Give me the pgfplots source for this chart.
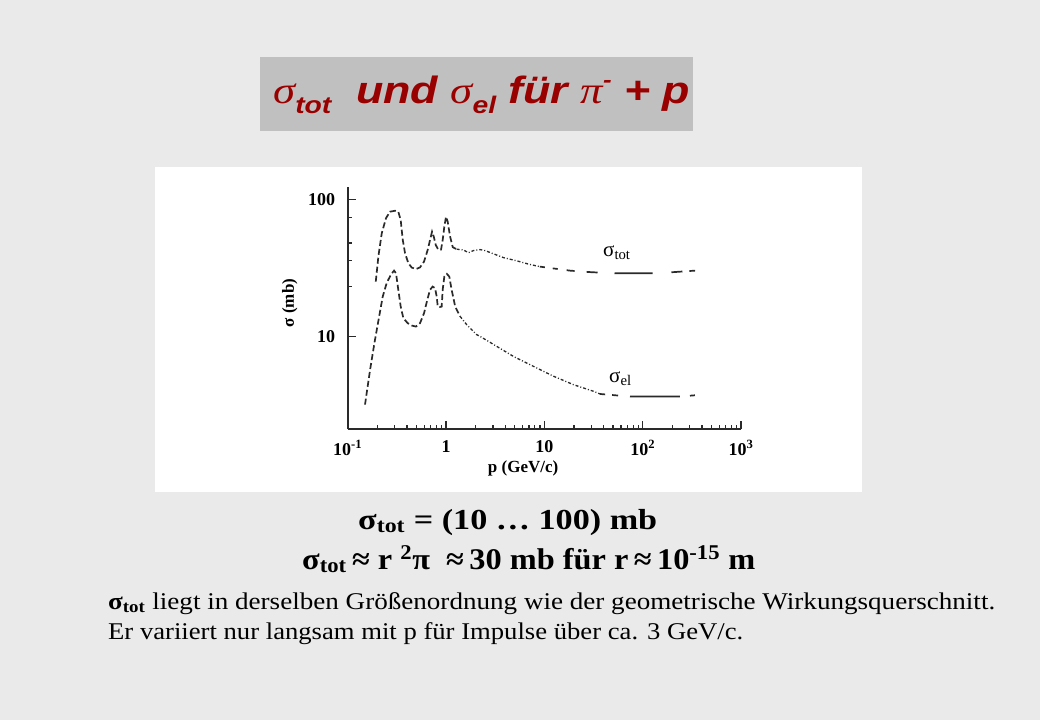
\documentclass[border=0pt]{standalone}
\usepackage{fontspec}
\setmainfont{Liberation Serif}
\setsansfont{Liberation Sans}
\usepackage{graphicx}
\usepackage{pgfplots}
\pgfplotsset{compat=1.18}

\definecolor{slidebg}{HTML}{EAEAEA}
\definecolor{titlebox}{HTML}{C0C0C0}
\definecolor{titlered}{HTML}{990000}
\definecolor{ink}{HTML}{2A2A2A}

\begin{document}
\begin{tikzpicture}
% slide background, title bar, white chart panel (1pt = 1px)
\fill[slidebg] (0pt,0pt) rectangle (1040pt,-720pt);
\fill[titlebox] (260pt,-57pt) rectangle (693pt,-131pt);
\fill[white] (155pt,-167pt) rectangle (862pt,-492pt);

\node[anchor=base west, inner sep=0pt, text=titlered] at (273pt,-103pt)
  {\resizebox{417pt}{\height}{\fontsize{38}{38}\selectfont\sffamily\bfseries\itshape
   {\rmfamily\mdseries σ}\raisebox{-0.28em}{\fontsize{24}{24}\selectfont tot}\ \ und
   {\rmfamily\mdseries σ}\raisebox{-0.28em}{\fontsize{24}{24}\selectfont el} für
   {\rmfamily\mdseries π}\raisebox{0.42em}{\fontsize{22}{22}\selectfont -} + p}};

\begin{axis}[
  at={(347.7pt,-429pt)}, anchor=south west,
  scale only axis, width=393.3pt, height=242.3pt,
  xmode=log, ymode=log,
  xmin=0.1, xmax=1000, ymin=2.11, ymax=123.7,
  axis lines=left,
  axis line style={-, line width=1.7pt, ink},
  tick align=inside,
  xtick={0.1,1,10,100,1000},
  xticklabels={10\textsuperscript{-1},1,10,10\textsuperscript{2},10\textsuperscript{3}},
  minor xtick={0.2,0.3,0.4,0.5,0.6,0.7,0.8,0.9,2,3,4,5,6,7,8,9,20,30,40,50,60,70,80,90,200,300,400,500,600,700,800,900},
  ytick={10,100}, yticklabels={10,100},
  minor ytick={23,36,48,74},
  major tick length=8pt, minor tick length=4.5pt,
  every tick/.style={ink, line width=1.3pt},
  tick label style={font=\fontsize{18}{18}\selectfont\bfseries},
  yticklabel style={xshift=-9pt},
  xticklabel style={yshift=-8pt},
  xlabel={p (GeV/c)}, ylabel={σ (mb)},
  label style={font=\fontsize{17}{17}\selectfont\bfseries},
  xlabel style={at={(axis description cs:0.446,-0.163)}, anchor=center},
  ylabel style={at={(axis description cs:-0.147,0.52)}, anchor=center},
  clip=false,
]
% sigma_tot: resonance region
\addplot[ink, line width=1.7pt, dash pattern=on 6pt off 3pt] coordinates {
  (0.193,25.1) (0.205,38.2) (0.222,56.6) (0.245,72.8) (0.269,81.3) (0.303,82.6)
  (0.327,81.3) (0.346,70.7) (0.363,50.6) (0.383,40.5) (0.414,34.2) (0.448,31.8)
  (0.495,31.0) (0.544,31.9) (0.598,35.2) (0.651,42.8) (0.688,50.6) (0.721,58.1)
  (0.750,53.5) (0.786,46.5) (0.836,42.8) (0.890,43.0) (0.925,50.6) (0.961,63.2)
  (1.00,74.7) (1.04,68.7) (1.10,53.5) (1.17,44.8) (1.28,43.3)
};
\addplot[ink, line width=1.3pt, dash pattern=on 3pt off 2pt on 1pt off 2pt] coordinates {
  (1.28,43.3) (1.50,42.8) (1.69,40.8) (1.90,42.3) (2.22,43.0) (2.49,42.3)
  (2.92,40.5) (3.83,37.6) (5.24,35.6) (7.0,33.6) (9.0,32.3)
};
\addplot[ink, line width=1.7pt, dash pattern=on 5pt off 8pt on 5pt off 9pt on 8pt off 12pt on 11pt off 17pt on 38pt off 19pt on 11pt off 7pt on 8pt off 40pt] coordinates {
  (9.0,32.3) (18.2,30.2) (30.3,29.4) (52.4,28.9) (127.6,28.9) (199,29.4) (341,30.2)
};
% sigma_el
\addplot[ink, line width=1.7pt, dash pattern=on 6pt off 3pt] coordinates {
  (0.150,3.18) (0.169,5.72) (0.187,8.95) (0.209,14.0) (0.227,19.5) (0.249,24.5)
  (0.274,28.1) (0.296,30.2) (0.310,28.9) (0.327,21.9) (0.346,16.5) (0.368,13.6)
  (0.407,12.5) (0.448,12.0) (0.495,11.8) (0.544,12.5) (0.598,14.8) (0.645,18.5)
  (0.688,21.9) (0.732,23.1) (0.773,22.5) (0.804,19.5) (0.824,16.5) (0.869,16.4)
  (0.903,16.5) (0.925,21.9) (0.961,27.3) (1.02,28.6) (1.08,27.3) (1.14,21.9)
  (1.24,16.5) (1.39,14.0)
};
\addplot[ink, line width=1.3pt, dash pattern=on 3pt off 2pt on 1pt off 2pt] coordinates {
  (1.39,14.0) (1.62,12.2) (2.05,10.3) (2.22,10.0) (3.28,8.46) (4.84,7.15)
  (7.73,6.05) (12.4,5.12) (19.7,4.45) (31.5,3.98) (36.9,3.80)
};
\addplot[ink, line width=1.7pt, dash pattern=on 5pt off 7pt on 6pt off 12pt on 50pt off 10pt on 5pt off 40pt] coordinates {
  (36.9,3.80) (74.5,3.64) (240,3.64) (341,3.72)
};
\end{axis}

\node[anchor=base west, inner sep=0pt] at (603pt,-256pt)
  {\fontsize{21}{21}\selectfont σ\textsubscript{tot}};
\node[anchor=base west, inner sep=0pt] at (609pt,-382pt)
  {\fontsize{21}{21}\selectfont σ\textsubscript{el}};

% text below the chart
\node[anchor=base west, inner sep=0pt] at (358pt,-529pt)
  {\resizebox{299pt}{\height}{\fontsize{29}{29}\selectfont\bfseries σ\textsubscript{tot} = (10 … 100) mb}};
\node[anchor=base west, inner sep=0pt] at (302pt,-569pt)
  {\resizebox{453pt}{\height}{\fontsize{30}{30}\selectfont\bfseries σ\textsubscript{tot}\,≈ r \textsuperscript{2}π\ \ ≈\,30 mb für r\,≈\,10\textsuperscript{-15} m}};
\node[anchor=base west, inner sep=0pt] at (108pt,-609pt)
  {\resizebox{887pt}{\height}{\fontsize{24}{24}\selectfont{\bfseries σ\textsubscript{tot}} liegt in derselben Größenordnung wie der geometrische Wirkungsquerschnitt.}};
\node[anchor=base west, inner sep=0pt] at (108pt,-639pt)
  {\resizebox{635pt}{\height}{\fontsize{24}{24}\selectfont Er variiert nur langsam mit p für Impulse über ca. 3 GeV/c.}};

\pgfresetboundingbox
\path[use as bounding box] (0pt,0pt) rectangle (1040pt,-720pt);
\end{tikzpicture}
\end{document}
